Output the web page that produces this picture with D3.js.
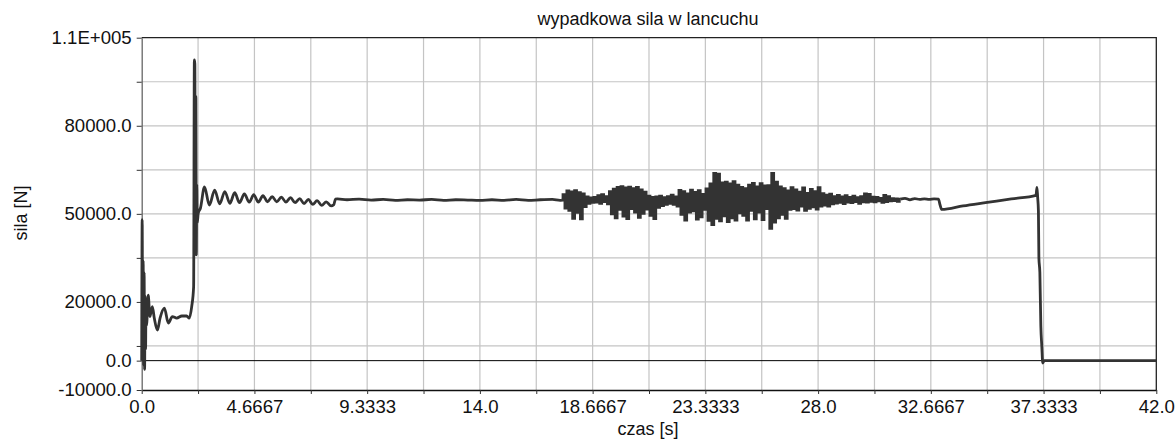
<!DOCTYPE html>
<html>
<head>
<meta charset="utf-8">
<script src="https://cdn.jsdelivr.net/npm/d3@7.9.0/dist/d3.min.js"></script>
<style>
  body { margin: 0; background: #fff; }
  text { font-family: "Liberation Sans", Arial, sans-serif; fill: #111; }
</style>
</head>
<body>
<svg id="chart" width="1176" height="441"></svg>
<script>
// --- data ---
const xTickValues = [0, 4.6667, 9.3333, 14, 18.6667, 23.3333, 28, 32.6667, 37.3333, 42];
const xTickLabels = ["0.0", "4.6667", "9.3333", "14.0", "18.6667", "23.3333", "28.0", "32.6667", "37.3333", "42.0"];
const yTickValues = [-10000, 0, 20000, 50000, 80000, 110000];
const yTickLabels = ["-10000.0", "0.0", "20000.0", "50000.0", "80000.0", "1.1E+005"];
const yGridValues = [5000, 20000, 35000, 50000, 65000, 80000, 95000, 110000];

// start-up transient and first peak
const startupTime  = [0.00, 0.02, 0.04, 0.06, 0.08, 0.10, 0.12, 0.14, 0.16, 0.18, 0.20, 0.27, 0.34, 0.44, 0.52, 0.65, 0.76, 0.94, 1.10, 1.27, 1.45, 1.66, 1.86, 1.97, 2.07, 2.15, 2.18, 2.20, 2.22, 2.24, 2.26, 2.28, 2.30, 2.34];
const startupForce = [0, 48000, 2000, 34000, -1500, 30000, -3000, 22000, 4000, 21000, 12000, 22300, 15000, 18400, 14500, 10400, 14500, 17900, 12800, 15000, 14500, 15200, 15200, 14500, 18400, 25200, 102400, 101000, 42000, 90000, 36000, 60000, 47000, 50200];

// decaying oscillation after the pick-up
const settleTime  = [2.43, 2.60, 2.80, 3.02, 3.23, 3.44, 3.65, 3.85, 4.05, 4.25, 4.45, 4.64, 4.83, 5.02, 5.21, 5.40, 5.59, 5.78, 5.97, 6.16, 6.35, 6.54, 6.72, 6.90, 7.08, 7.26, 7.45, 7.64, 7.84, 7.95];
const settleForce = [51900, 59200, 53000, 58100, 53400, 57600, 53600, 57200, 53800, 56800, 54000, 56500, 54000, 56200, 54100, 55900, 54100, 55700, 54000, 55500, 53800, 55200, 53500, 54900, 53200, 54500, 52900, 54100, 52700, 53100];

// steady running
const cruiseTime  = [8.02, 8.10, 8.50, 9.00, 9.50, 10.00, 10.50, 11.00, 11.50, 12.00, 12.50, 13.00, 13.50, 14.00, 14.50, 15.00, 15.50, 16.00, 16.50, 17.00, 17.32];
const cruiseForce = [55000, 55100, 54800, 55000, 54700, 54900, 54600, 54800, 54700, 54900, 54600, 54800, 54700, 54600, 54800, 54600, 54900, 54600, 54800, 54900, 54600];

// noisy part, sampled every 0.08 s from 17.40 s
const burstStart = 17.40;
const burstStep = 0.08;
const burstForce = [
  54700, 56500, 52000, 57800, 51200, 57500, 48500, 57900, 50500, 57200, 48300, 56800, 52500, 55800,
  53600, 55400, 53900, 55600, 54000, 56200, 53600, 56500, 54200, 55900, 53400,
  57600, 50000, 58400, 48600, 59000, 51500, 59300, 49200, 58800, 48400, 59100, 51800, 58600, 50600, 59000, 48800, 58200, 50200, 57400,
  51600, 56000, 49500, 55600, 48400, 55800, 52200, 56000, 52800, 55500, 53200,
  55900, 53600, 56400, 53200, 55800, 52600,
  58000, 49800, 57600, 47900, 56800, 50600, 58100, 51000, 57300, 48200, 57900, 49000, 56600, 51500, 58500,
  47800, 60200, 46300, 63800, 48500, 63500, 47600, 60500, 49300, 60800, 47400, 60200, 48600, 61000, 47900, 59800, 50300,
  59000, 49500, 58600, 47900, 59800, 51200, 60400, 48300, 59200, 50600, 60300, 48000, 59500, 51800,
  59600, 45100, 63800, 47200, 60800,
  48600, 59200, 49800, 58600, 48500, 57800, 51500, 58900,
  51800, 58200, 51300, 57400, 52600, 58800, 51200, 57000, 51900, 58300, 52400, 57600, 51600, 58900,
  52600, 56900, 53000, 56400, 52600, 56700, 53400,
  55900, 53700, 56300, 53900, 55800, 53500, 56200, 54000, 55600, 53800, 56000, 54200, 55500, 53600, 55900, 54100, 56800, 54000,
  56600, 54300, 55700, 54100, 55600, 54400, 55300, 53900, 56300, 54200, 55900, 54400, 55200, 54500, 55100, 54300, 55000
];

// ramp, stop and rest
const stopTime  = [31.60, 31.80, 32.00, 32.20, 32.40, 32.60, 32.80, 32.98, 33.05, 33.12, 34.00, 35.00, 36.00, 37.02, 37.06, 37.09, 37.12, 37.14, 37.18, 37.22, 37.26, 37.30, 37.36, 42.00];
const stopForce = [55300, 54800, 55200, 54900, 55100, 54900, 55100, 55000, 53000, 51500, 52700, 53900, 55100, 56300, 59000, 55500, 51000, 35000, 30000, 12000, 5000, -800, 0, 0];

const burstSeries = burstForce.map((f, i) => [burstStart + i * burstStep, f]);
const headSeries = [
  ...startupTime.map((t, i) => [t, startupForce[i]]),
  ...settleTime.map((t, i) => [t, settleForce[i]]),
  ...cruiseTime.map((t, i) => [t, cruiseForce[i]]),
  burstSeries[0]
];
const tailSeries = [
  burstSeries[burstSeries.length - 1],
  ...stopTime.map((t, i) => [t, stopForce[i]])
];

// --- layout ---
const svg = d3.select('#chart');
const plotLeft = 141.7, plotRight = 1156.3, plotTop = 37.7, plotBottom = 390;
const font = '"Liberation Sans", Arial, sans-serif';

const x = d3.scaleLinear().domain([0, 42]).range([plotLeft, plotRight]);
const y = d3.scaleLinear().domain([-10000, 110000]).range([plotBottom, plotTop]);

// vertical grid every half step
const xMinor = [];
for (let i = 0; i < xTickValues.length - 1; i++) {
  xMinor.push(xTickValues[i], (xTickValues[i] + xTickValues[i + 1]) / 2);
}
xMinor.push(42);

svg.append('g').selectAll('line')
  .data(xMinor.slice(1, -1))
  .join('line')
  .attr('x1', d => x(d)).attr('x2', d => x(d))
  .attr('y1', plotTop).attr('y2', plotBottom)
  .attr('stroke', '#c4c4c4').attr('stroke-width', 1.2);

svg.append('g').selectAll('line')
  .data(yGridValues.slice(0, -1))
  .join('line')
  .attr('x1', plotLeft).attr('x2', plotRight)
  .attr('y1', d => y(d)).attr('y2', d => y(d))
  .attr('stroke', '#c4c4c4').attr('stroke-width', 1.2);

// zero line
svg.append('line')
  .attr('x1', plotLeft).attr('x2', plotRight)
  .attr('y1', y(0)).attr('y2', y(0))
  .attr('stroke', '#000').attr('stroke-width', 1);

// frame (top and right)
svg.append('path')
  .attr('d', `M${plotLeft},${plotTop}H${plotRight}V${plotBottom}`)
  .attr('fill', 'none').attr('stroke', '#222').attr('stroke-width', 1.3);

// axes
const xAxis = d3.axisBottom(x)
  .tickValues(xMinor)
  .tickSize(4)
  .tickSizeOuter(0)
  .tickPadding(6)
  .tickFormat(d => {
    const k = xTickValues.indexOf(d);
    return k >= 0 ? xTickLabels[k] : '';
  });

const gx = svg.append('g')
  .attr('transform', `translate(0,${plotBottom})`)
  .call(xAxis);

const yAxis = d3.axisLeft(y)
  .tickValues([...yTickValues, 5000, 35000, 65000, 95000])
  .tickSize(5)
  .tickSizeOuter(0)
  .tickPadding(5)
  .tickFormat(d => {
    const k = yTickValues.indexOf(d);
    return k >= 0 ? yTickLabels[k] : '';
  });

const gy = svg.append('g')
  .attr('transform', `translate(${plotLeft},0)`)
  .call(yAxis);

[gx, gy].forEach(g => {
  g.attr('font-size', 18.6).attr('font-family', font);
  g.selectAll('text').attr('fill', '#111');
  g.selectAll('line').attr('stroke', '#333');
});
gx.select('.domain').attr('stroke', '#111').attr('stroke-width', 1.3);
gy.select('.domain').attr('stroke', '#666').attr('stroke-width', 1.3);

// the force curve: smooth where it is smooth, stepped where the solver output is noisy
const smoothLine = d3.line()
  .x(d => x(d[0]))
  .y(d => y(d[1]))
  .curve(d3.curveMonotoneX);

const stepLine = d3.line()
  .x(d => x(d[0]))
  .y(d => y(d[1]))
  .curve(d3.curveStep);

[[headSeries, smoothLine], [burstSeries, stepLine], [tailSeries, smoothLine]].forEach(([data, gen]) => {
  svg.append('path')
    .datum(data)
    .attr('d', gen)
    .attr('fill', 'none')
    .attr('stroke', '#333')
    .attr('stroke-width', 2.8)
    .attr('stroke-linejoin', 'miter');
});

// titles
svg.append('text')
  .attr('x', 648).attr('y', 25)
  .attr('text-anchor', 'middle')
  .attr('font-size', 18)
  .text('wypadkowa sila w lancuchu');

svg.append('text')
  .attr('x', 648).attr('y', 435)
  .attr('text-anchor', 'middle')
  .attr('font-size', 18)
  .text('czas [s]');

svg.append('text')
  .attr('transform', 'translate(27,213) rotate(-90)')
  .attr('text-anchor', 'middle')
  .attr('font-size', 18)
  .text('sila [N]');
</script>
</body>
</html>
